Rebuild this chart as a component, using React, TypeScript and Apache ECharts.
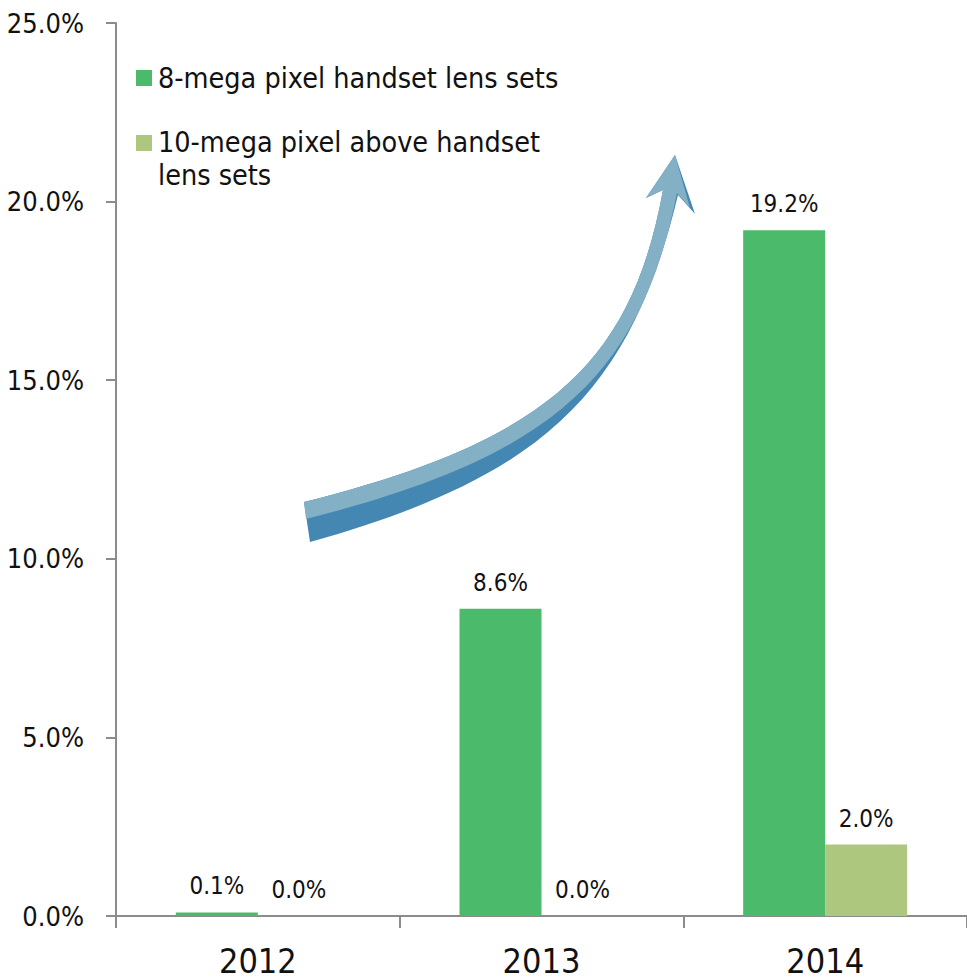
import React, { useEffect, useRef } from "react";
import * as echarts from "echarts";

const categories = ["2012", "2013", "2014"];
const seriesNames = ["8-mega pixel handset lens sets", "10-mega pixel above handset lens sets"];
const eightMP = [0.1, 8.6, 19.2];
const tenMPAbove = [0.0, 0.0, 2.0];
const yTicks = [0, 5, 10, 15, 20, 25];

const FONT = "'DejaVu Sans Condensed', 'DejaVu Sans', sans-serif";
const GREEN = "#4cba6b";
const LIGHT_GREEN = "#adc77f";
const AXIS = "#8c8c8c";

// full arrow (dark side)
const arrowDark =
  "M304 502 C545 441 631 366 663 190 L646 198 L675 155 L695 214 L678 195 C630 394 542 477 310 542 Z";
// top face (light)
const arrowLight =
  "M304 502 C545 441 631 366 663 190 L646 198 L675 155 L690 208 L677 193 C640 379 550 457 306 519 Z";

echarts.graphic.registerShape("arrowDark", echarts.graphic.extendPath(arrowDark, {}));
echarts.graphic.registerShape("arrowLight", echarts.graphic.extendPath(arrowLight, {}));

export default function App() {
  const ref = useRef<HTMLDivElement>(null);
  useEffect(() => {
    if (!ref.current) return;
    const chart = echarts.init(ref.current, null, { renderer: "svg" });
    const labelFmt = (p: any) => `${Number(p.value).toFixed(1)}%`;
    chart.setOption({
      animation: false,
      backgroundColor: "#ffffff",
      grid: { left: 116, top: 23, width: 856, height: 893, containLabel: false },
      xAxis: {
        type: "category",
        data: categories,
        axisLine: { lineStyle: { color: AXIS, width: 2 } },
        axisTick: { show: true, length: 12, lineStyle: { color: AXIS, width: 2 }, alignWithLabel: false },
        axisLabel: { color: "#111", fontSize: 34, fontFamily: FONT, margin: 28 },
      },
      yAxis: {
        type: "value",
        min: yTicks[0],
        max: yTicks[yTicks.length - 1],
        interval: 5,
        axisLine: { show: true, lineStyle: { color: AXIS, width: 2 } },
        axisTick: { show: true, length: 10, lineStyle: { color: AXIS, width: 2 } },
        splitLine: { show: false },
        axisLabel: {
          color: "#111",
          fontSize: 27,
          fontFamily: FONT,
          margin: 32,
          formatter: (v: number) => `${v.toFixed(1)}%`,
        },
      },
      series: [
        {
          name: seriesNames[0],
          type: "bar",
          data: eightMP,
          barWidth: 82,
          barGap: "0%",
          itemStyle: { color: GREEN },
          label: { show: true, position: "top", distance: 14, color: "#111", fontSize: 24, fontFamily: FONT, formatter: labelFmt },
        },
        {
          name: seriesNames[1],
          type: "bar",
          data: tenMPAbove,
          barWidth: 82,
          barGap: "0%",
          itemStyle: { color: LIGHT_GREEN },
          label: { show: true, position: "top", distance: 14, color: "#111", fontSize: 24, fontFamily: FONT, formatter: labelFmt },
        },
      ],
      graphic: [
        { type: "arrowDark", x: 0, y: 0, style: { fill: "#4487b3" }, z: 10 },
        { type: "arrowLight", x: 0, y: 0, style: { fill: "#83b0c4" }, z: 11 },
        { type: "rect", shape: { x: 136, y: 70, width: 16, height: 16 }, style: { fill: GREEN } },
        {
          type: "text",
          x: 158,
          y: 78,
          style: { text: seriesNames[0], fill: "#111", font: `28.5px ${FONT}`, verticalAlign: "middle" },
        },
        { type: "rect", shape: { x: 136, y: 135, width: 16, height: 16 }, style: { fill: LIGHT_GREEN } },
        {
          type: "text",
          x: 158,
          y: 126,
          style: {
            text: "10-mega pixel above handset\nlens sets",
            fill: "#111",
            font: `28.5px ${FONT}`,
            lineHeight: 33,
            verticalAlign: "top",
          },
        },
      ],
    });
    return () => chart.dispose();
  }, []);
  return (
    <div
      ref={ref}
      style={{ position: "fixed", left: 0, top: 0, width: 967, height: 980, background: "#fff" }}
    />
  );
}
